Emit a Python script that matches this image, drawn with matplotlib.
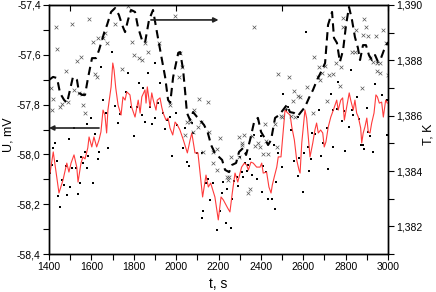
import matplotlib
matplotlib.use("Agg")
import matplotlib.pyplot as plt
from matplotlib.ticker import MultipleLocator, FixedLocator, FuncFormatter

plt.rcParams["font.family"] = ["Liberation Sans", "DejaVu Sans"]

# smoothed potential (red line), left axis
t_u = [1405, 1420, 1447, 1466, 1484, 1494, 1504, 1518, 1531, 1537, 1551, 1560, 1570,
       1583, 1589, 1602, 1612, 1625, 1636, 1645, 1655, 1664, 1672, 1678, 1693, 1701,
       1707, 1715, 1726, 1740, 1749, 1759, 1767, 1782, 1790, 1806, 1821, 1830, 1838,
       1853, 1858, 1864, 1877, 1885, 1892, 1905, 1911, 1924, 1932, 1939, 1952, 1962,
       1971, 1984, 1995, 2006, 2018, 2034, 2053, 2066, 2074, 2089, 2103, 2113, 2125,
       2141, 2152, 2163, 2173, 2183, 2199, 2212, 2223, 2243, 2254, 2265, 2278, 2291,
       2309, 2322, 2333, 2341, 2353, 2364, 2380, 2396, 2404, 2411, 2427, 2438, 2448,
       2454, 2463, 2475, 2482, 2495, 2506, 2514, 2527, 2538, 2546, 2558, 2569, 2580,
       2585, 2593, 2608, 2616, 2632, 2645, 2655, 2663, 2671, 2682, 2692, 2699, 2707,
       2718, 2730, 2742, 2758, 2765, 2777, 2786, 2794, 2805, 2817, 2824, 2836, 2844,
       2852, 2860, 2871, 2876, 2883, 2891, 2900, 2907, 2915, 2923, 2934, 2943, 2950,
       2959, 2970, 2978, 2989, 2997]
u_line = [-58.075, -57.990, -58.155, -58.103, -58.035, -58.071, -58.035, -58.002, -58.051,
          -58.111, -58.035, -58.010, -58.018, -57.974, -57.930, -57.970, -57.930, -57.970,
          -57.942, -57.910, -57.822, -57.842, -57.914, -57.822, -57.729, -57.633, -57.661,
          -57.733, -57.802, -57.842, -57.769, -57.782, -57.749, -57.761, -57.810, -57.850,
          -57.782, -57.834, -57.769, -57.741, -57.794, -57.729, -57.810, -57.753, -57.782,
          -57.822, -57.782, -57.773, -57.810, -57.834, -57.862, -57.854, -57.894, -57.922,
          -57.870, -57.882, -57.902, -57.942, -57.994, -57.942, -57.914, -57.994, -57.994,
          -58.075, -58.171, -58.083, -58.131, -58.115, -58.143, -58.171, -58.263, -58.171,
          -58.183, -58.215, -58.231, -58.155, -58.075, -58.111, -58.051, -58.035, -58.043,
          -58.063, -58.031, -58.035, -58.051, -58.051, -58.035, -58.075, -58.071, -58.131,
          -58.155, -58.123, -58.091, -58.051, -58.010, -58.010, -57.902, -57.822, -57.834,
          -57.842, -57.890, -57.942, -58.022, -58.063, -58.075, -57.954, -57.822, -57.854,
          -58.010, -57.954, -57.902, -57.874, -57.914, -57.902, -57.914, -57.970, -57.950,
          -57.890, -57.850, -57.822, -57.782, -57.822, -57.782, -57.773, -57.862, -57.810,
          -57.753, -57.782, -57.822, -57.782, -57.834, -57.850, -57.894, -57.954, -57.914,
          -57.890, -57.854, -57.910, -57.914, -57.874, -57.834, -57.761, -57.769, -57.794,
          -57.790, -57.850, -57.782, -57.794]

# raw potential readings (black squares), left axis
t_dots = [1405, 1413, 1420, 1420, 1428, 1439, 1444, 1454, 1461, 1471, 1479, 1487, 1494,
          1501, 1510, 1519, 1529, 1535, 1546, 1551, 1559, 1571, 1579, 1583, 1578, 1598,
          1609, 1617, 1633, 1637, 1645, 1656, 1668, 1680, 1696, 1712, 1727, 1735, 1763,
          1773, 1787, 1803, 1817, 1826, 1838, 1845, 1853, 1869, 1877, 1885, 1900, 1900,
          1916, 1924, 1937, 1948, 1958, 1971, 1981, 1999, 2003, 2031, 2042, 2050, 2062,
          2074, 2081, 2097, 2121, 2121, 2127, 2142, 2152, 2160, 2175, 2191, 2205, 2215,
          2223, 2235, 2242, 2257, 2265, 2275, 2286, 2294, 2301, 2309, 2317, 2325, 2333,
          2341, 2349, 2357, 2369, 2382, 2401, 2403, 2411, 2424, 2435, 2451, 2463, 2467,
          2471, 2482, 2500, 2506, 2519, 2527, 2542, 2558, 2574, 2577, 2581, 2597, 2605,
          2613, 2621, 2629, 2637, 2640, 2656, 2676, 2684, 2695, 2711, 2718, 2730, 2742,
          2742, 2761, 2765, 2781, 2792, 2797, 2817, 2824, 2829, 2836, 2852, 2865, 2873,
          2883, 2888, 2900, 2907, 2915, 2931, 2939, 2970, 2994, 2997]
u_dots = [-58.075, -58.043, -57.974, -57.894, -57.954, -58.027, -58.167, -58.211, -58.103,
          -58.123, -58.047, -58.163, -57.938, -58.131, -58.055, -57.894, -58.055, -58.159,
          -58.115, -58.010, -58.035, -57.990, -58.055, -58.006, -57.878, -57.854, -58.115,
          -57.918, -58.018, -57.990, -57.649, -57.782, -57.834, -57.974, -57.589, -57.806,
          -57.874, -57.838, -57.749, -57.673, -57.810, -57.926, -57.810, -57.713, -57.842,
          -57.733, -57.870, -57.673, -57.810, -57.878, -57.633, -57.854, -57.794, -57.713,
          -57.834, -57.898, -57.862, -57.850, -58.006, -57.834, -57.882, -57.974, -57.894,
          -58.031, -58.047, -57.874, -57.914, -57.994, -57.994, -58.255, -58.227, -58.115,
          -58.099, -58.183, -58.115, -58.304, -58.227, -58.155, -58.111, -58.274, -58.139,
          -58.296, -58.179, -58.107, -58.091, -58.127, -58.010, -58.071, -58.091, -58.035,
          -58.067, -58.043, -58.018, -58.083, -57.922, -58.099, -57.926, -58.151, -58.047,
          -58.071, -58.179, -58.179, -57.962, -58.219, -58.111, -57.994, -58.051, -57.757,
          -57.822, -57.810, -57.902, -58.027, -58.087, -57.850, -58.014, -58.151, -57.993,
          -57.508, -57.969, -58.067, -58.018, -57.914, -57.918, -57.822, -58.005, -57.955,
          -57.894, -58.059, -57.757, -57.822, -57.969, -57.818, -57.709, -57.866, -57.826,
          -57.985, -57.890, -57.661, -57.822, -57.842, -57.769, -57.858, -57.962, -57.962,
          -57.980, -57.814, -57.909, -57.926, -57.992, -57.717, -57.761, -57.922, -57.782]

# smoothed temperature (dashed), right axis
t_temp = [1400, 1419, 1438, 1452, 1471, 1485, 1499, 1513, 1532, 1542, 1556, 1570, 1584,
          1603, 1622, 1636, 1660, 1674, 1693, 1712, 1730, 1745, 1759, 1773, 1787, 1806,
          1820, 1839, 1853, 1872, 1891, 1910, 1929, 1948, 1962, 1972, 1986, 2010, 2019,
          2033, 2043, 2051, 2066, 2080, 2099, 2113, 2132, 2150, 2165, 2183, 2202, 2217,
          2231, 2250, 2264, 2283, 2297, 2316, 2330, 2349, 2368, 2386, 2401, 2415, 2434,
          2448, 2467, 2486, 2504, 2523, 2537, 2556, 2575, 2589, 2608, 2627, 2646, 2665,
          2684, 2703, 2717, 2736, 2745, 2759, 2773, 2788, 2802, 2816, 2830, 2844, 2858,
          2868, 2882, 2896, 2910, 2924, 2939, 2953, 2967, 2981, 3000]
temp_line = [1.38729, 1.38740, 1.38736, 1.38682, 1.38657, 1.38646, 1.38693, 1.38740,
             1.38729, 1.38682, 1.38675, 1.38675, 1.38736, 1.38808, 1.38808, 1.38837,
             1.38899, 1.38928, 1.38975, 1.38989, 1.38964, 1.38928, 1.38902, 1.38946,
             1.38982, 1.38975, 1.38920, 1.38873, 1.38863, 1.38946, 1.38982, 1.38899,
             1.38819, 1.38740, 1.38657, 1.38646, 1.38740, 1.38827, 1.38830, 1.38765,
             1.38682, 1.38610, 1.38584, 1.38613, 1.38595, 1.38584, 1.38566, 1.38537,
             1.38494, 1.38465, 1.38451, 1.38440, 1.38404, 1.38396, 1.38422, 1.38429,
             1.38469, 1.38483, 1.38458, 1.38512, 1.38577, 1.38592, 1.38541, 1.38523,
             1.38494, 1.38512, 1.38592, 1.38602, 1.38620, 1.38639, 1.38613, 1.38610,
             1.38599, 1.38613, 1.38631, 1.38664, 1.38693, 1.38729, 1.38758, 1.38790,
             1.38928, 1.38975, 1.38881, 1.38863, 1.38794, 1.38837, 1.38928, 1.38993,
             1.38946, 1.38884, 1.38845, 1.38801, 1.38855, 1.38855, 1.38819, 1.38801,
             1.38819, 1.38794, 1.38808, 1.38837, 1.38866]

# raw temperature readings (crosses), right axis
t_cross = [1408, 1413, 1420, 1431, 1439, 1452, 1463, 1478, 1492, 1509, 1518, 1530, 1542,
           1553, 1554, 1562, 1570, 1591, 1608, 1619, 1627, 1633, 1656, 1662, 1676, 1712,
           1745, 1774, 1790, 1799, 1825, 1838, 1853, 1869, 1921, 1971, 1995, 2015, 2018,
           2029, 2042, 2050, 2065, 2081, 2086, 2105, 2109, 2117, 2128, 2152, 2157, 2173,
           2175, 2192, 2192, 2205, 2239, 2246, 2251, 2257, 2298, 2298, 2309, 2313, 2320,
           2338, 2349, 2360, 2368, 2372, 2388, 2396, 2411, 2419, 2424, 2435, 2467, 2475,
           2482, 2495, 2498, 2519, 2534, 2542, 2553, 2558, 2561, 2577, 2586, 2616, 2645,
           2652, 2671, 2679, 2676, 2689, 2704, 2711, 2723, 2739, 2755, 2773, 2778, 2789,
           2786, 2830, 2842, 2847, 2881, 2888, 2896, 2906, 2876, 2915, 2928, 2943, 2950,
           2948, 2960, 2962, 2976, 2991, 2999]
temp_cross = [1.38700, 1.38620, 1.38660, 1.38920, 1.38841, 1.38631, 1.38642, 1.38761,
              1.38649, 1.38931, 1.38693, 1.38798, 1.38682, 1.38812, 1.38678, 1.38639,
              1.38610, 1.38949, 1.38866, 1.38751, 1.38740, 1.38881, 1.38881, 1.38899,
              1.38863, 1.38931, 1.38769, 1.38996, 1.38866, 1.38819, 1.38808, 1.38801,
              1.38863, 1.38830, 1.38863, 1.38639, 1.38960, 1.38740, 1.38827, 1.38776,
              1.38530, 1.38577, 1.38577, 1.38541, 1.38620, 1.38559, 1.38660, 1.38577,
              1.38469, 1.38649, 1.38541, 1.38469, 1.38429, 1.38480, 1.38404, 1.38519,
              1.38378, 1.38367, 1.38378, 1.38451, 1.38523, 1.38451, 1.38494, 1.38501,
              1.38530, 1.38320, 1.38335, 1.38527, 1.38920, 1.38490, 1.38501, 1.38487,
              1.38461, 1.38570, 1.38508, 1.38461, 1.38570, 1.38487, 1.38751, 1.38599,
              1.38595, 1.38628, 1.38740, 1.38599, 1.38653, 1.38689, 1.38595, 1.38671,
              1.38667, 1.38704, 1.38610, 1.38812, 1.38740, 1.38729, 1.38776, 1.38754,
              1.38780, 1.38653, 1.38747, 1.38751, 1.38790, 1.38707, 1.38776, 1.38953,
              1.38920, 1.38830, 1.38830, 1.38908, 1.38892, 1.38949, 1.38920, 1.38888,
              1.38700, 1.38808, 1.38794, 1.38888, 1.38790, 1.38761, 1.38790, 1.38754,
              1.38910, 1.38863, 1.38747]


def comma(fmt):
    return FuncFormatter(lambda v, p: format(v, fmt).replace(".", ","))


fig = plt.figure(figsize=(4.36, 2.92), dpi=100)
ax = fig.add_axes([0.1124, 0.1301, 0.7775, 0.8528])
ax2 = ax.twinx()

ax.scatter(t_dots, u_dots, marker="s", s=4.5, color="black", linewidths=0, zorder=2)
ax.plot(t_u, u_line, color="#ff3b3b", lw=0.8, zorder=3)
ax2.scatter(t_cross, temp_cross, marker="x", s=7, color="#555555", linewidths=0.5)
ax2.plot(t_temp, temp_line, color="black", lw=1.5, dashes=(4, 2.5))

ax.set_xlim(1400, 3000)
ax.set_ylim(-58.4, -57.4)
ax2.set_ylim(1.381, 1.390)

ax.xaxis.set_major_locator(MultipleLocator(200))
ax.xaxis.set_minor_locator(MultipleLocator(100))
ax.yaxis.set_major_locator(MultipleLocator(0.2))
ax.yaxis.set_minor_locator(MultipleLocator(0.1))
ax.yaxis.set_major_formatter(comma(".1f"))
ax2.yaxis.set_major_locator(MultipleLocator(0.002))
ax2.yaxis.set_minor_locator(MultipleLocator(0.001))
ax2.yaxis.set_major_formatter(comma(".3f"))

for a in (ax, ax2):
    a.tick_params(which="both", direction="out", labelsize=7.5, pad=2, width=0.8, length=4)
    for s in a.spines.values():
        s.set_linewidth(1.0)

# inward ticks along the top edge
top = ax.secondary_xaxis("top")
top.xaxis.set_major_locator(FixedLocator([1500, 2000, 2500, 3000]))
top.tick_params(direction="in", length=4, labeltop=False, width=0.8)

ax.set_xlabel("t, s", fontsize=10)
ax.set_ylabel("U, mV", fontsize=9)
ax2.set_ylabel("T, K", fontsize=9)
ax.xaxis.set_label_coords(0.5, -0.12)
ax.xaxis.label.set_va("center")
ax.yaxis.set_label_coords(-0.12, 0.48)
ax.yaxis.label.set_va("center")
ax2.yaxis.set_label_coords(1.12, 0.48)
ax2.yaxis.label.set_va("center")

# arrows pointing at the axis each curve belongs to
ax.annotate("", xy=(1400, -57.894), xytext=(1636, -57.894),
            arrowprops=dict(arrowstyle="-|>", color="#222222", lw=1.2,
                            mutation_scale=7, shrinkA=0, shrinkB=0))
ax2.annotate("", xy=(2200, 1.38946), xytext=(1881, 1.38946),
             arrowprops=dict(arrowstyle="-|>", color="#222222", lw=1.2,
                             mutation_scale=7, shrinkA=0, shrinkB=0))

fig.savefig("out.png", dpi=100)
